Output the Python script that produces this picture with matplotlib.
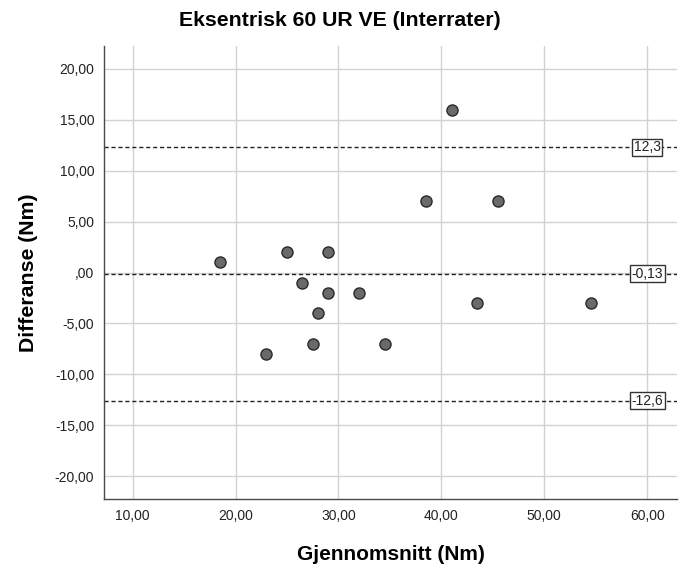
import matplotlib
matplotlib.use("Agg")
import matplotlib.pyplot as plt
from matplotlib.ticker import FuncFormatter

plt.rcParams['font.family'] = ['Liberation Sans', 'DejaVu Sans']

# gjennomsnitt og differanse for hver forsøksperson
gjennomsnitt = [41.0, 38.5, 45.5, 18.5, 25.0, 29.0, 26.5, 29.0, 32.0, 28.0, 43.5, 54.5, 27.5, 34.5, 23.0]
differanse = [16.0, 7.0, 7.0, 1.0, 2.0, 2.0, -1.0, -2.0, -2.0, -4.0, -3.0, -3.0, -7.0, -7.0, -8.0]

# referanselinjer: øvre grense, snitt, nedre grense
linjer = [12.3, -0.13, -12.6]
linje_tekst = ['12,3', '-0,13', '-12,6']

x_ticks = [10, 20, 30, 40, 50, 60]
y_ticks = [-20, -15, -10, -5, 0, 5, 10, 15, 20]


def spss_format(v, pos=None):
    s = f"{abs(v):.2f}".replace('.', ',')
    if abs(v) < 1:
        s = s[1:]
    return ('-' if v < 0 else '') + s


fig = plt.figure(figsize=(6.88, 5.69), dpi=100)
ax = fig.add_axes([104/688, 1 - 499/569, 573/688, 453/569])

ax.set_xlim(7.22, 62.9)
ax.set_ylim(-22.26, 22.26)
ax.set_xticks(x_ticks)
ax.set_yticks(y_ticks)
ax.xaxis.set_major_formatter(FuncFormatter(spss_format))
ax.yaxis.set_major_formatter(FuncFormatter(spss_format))
ax.tick_params(length=0, labelsize=10, colors='#222222', pad=7)
ax.grid(True, color='#d2d2d2', linewidth=1.0)
ax.set_axisbelow(True)

for side in ['top', 'right']:
    ax.spines[side].set_visible(False)
for side in ['left', 'bottom']:
    ax.spines[side].set_color('#4a4a4a')
    ax.spines[side].set_linewidth(1.0)

for verdi, tekst in zip(linjer, linje_tekst):
    ax.axhline(verdi, color='#222222', linewidth=1.0, linestyle=(0, (3, 2)), zorder=2)
    ax.text(60, verdi, tekst, ha='center', va='center', fontsize=10, color='#222222',
            bbox=dict(boxstyle='square,pad=0.12', facecolor='white', edgecolor='#333333', linewidth=1.0),
            zorder=4)

ax.plot(gjennomsnitt, differanse, 'o', markersize=8, markerfacecolor='#6a6a6a',
        markeredgecolor='#2a2a2a', markeredgewidth=1.0, zorder=3)

# tittelen står midt på hele figuren, ikke over aksene
fig.text(340/688, 1 - 21/569, 'Eksentrisk 60 UR VE (Interrater)', ha='center', va='center',
         fontsize=15.3, fontweight='bold')
ax.set_xlabel('Gjennomsnitt (Nm)', fontsize=15, fontweight='bold', labelpad=16)
ax.set_ylabel('Differanse (Nm)', fontsize=15.3, fontweight='bold', labelpad=12)

plt.savefig('out.png', dpi=100)
